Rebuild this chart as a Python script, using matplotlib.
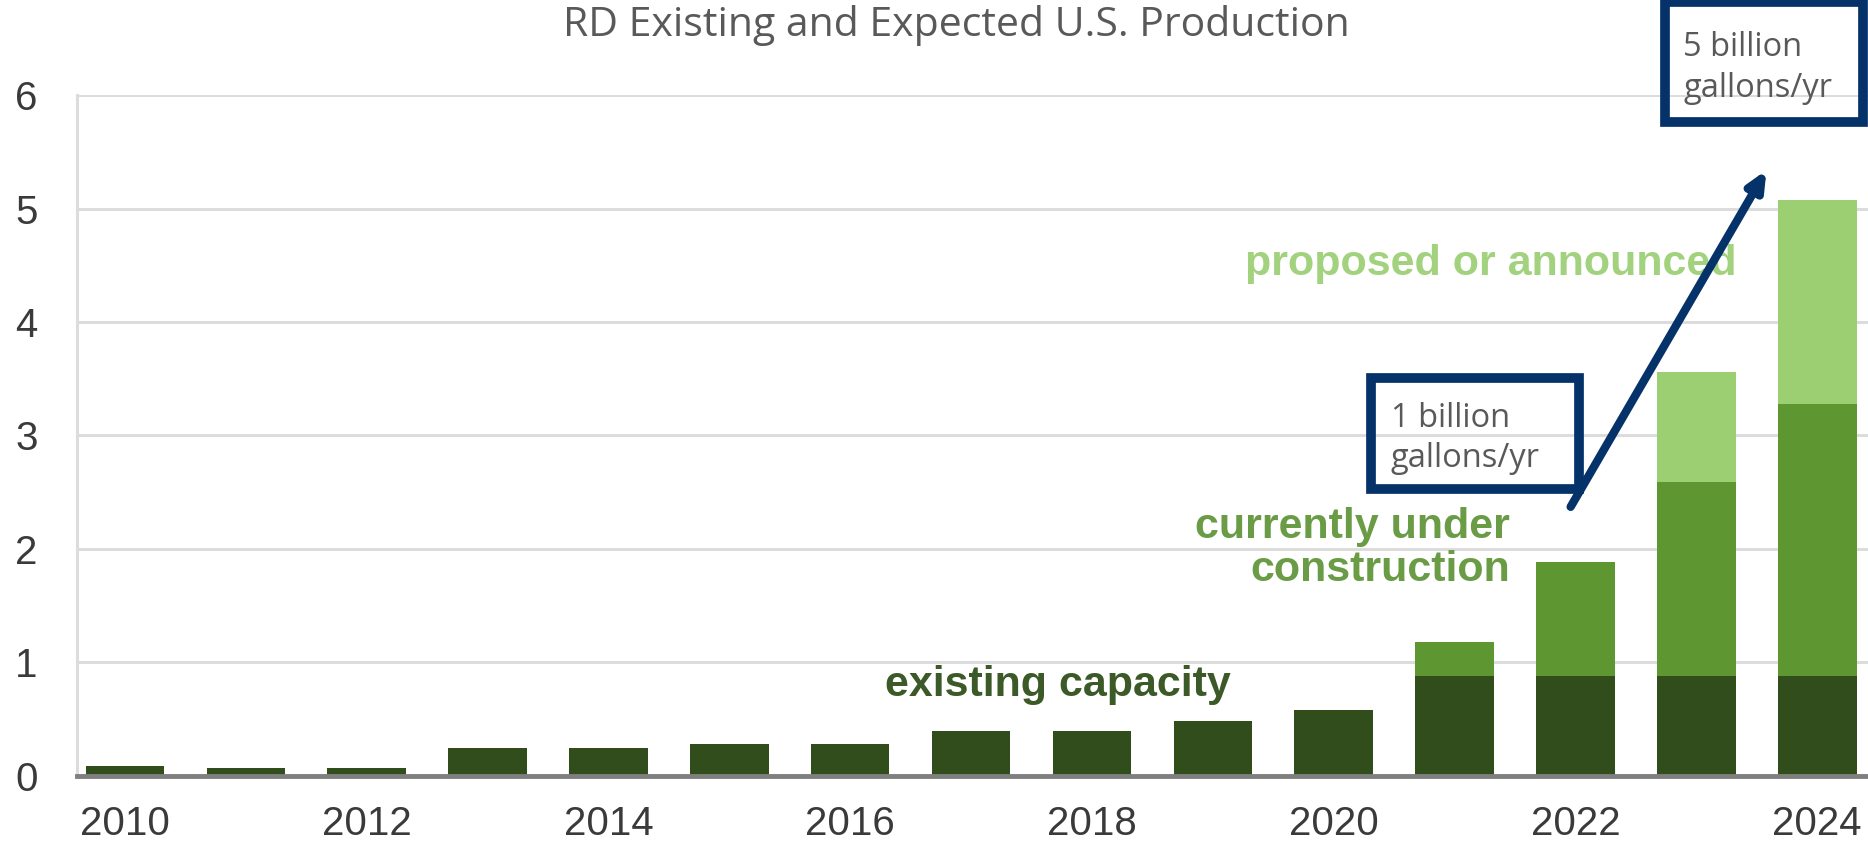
import numpy as np
import matplotlib
matplotlib.use("Agg")
import matplotlib.pyplot as plt
from matplotlib.patches import Rectangle

years = [2010, 2011, 2012, 2013, 2014, 2015, 2016, 2017, 2018, 2019, 2020, 2021, 2022, 2023, 2024]
existing = [0.08, 0.07, 0.07, 0.24, 0.24, 0.28, 0.28, 0.39, 0.39, 0.48, 0.58, 0.88, 0.88, 0.88, 0.88]
under_construction = [0, 0, 0, 0, 0, 0, 0, 0, 0, 0, 0, 0.30, 1.00, 1.71, 2.40]
proposed = [0, 0, 0, 0, 0, 0, 0, 0, 0, 0, 0, 0, 0, 0.97, 1.80]
year_ticks = [2010, 2012, 2014, 2016, 2018, 2020, 2022, 2024]
y_ticks = [0, 1, 2, 3, 4, 5, 6]

c_exist = "#314d1c"
c_under = "#5e9732"
c_prop = "#9bcf72"
navy = "#06326a"

fig = plt.figure(figsize=(18.68, 8.43), dpi=100)
ax = fig.add_axes([0.041, 0.080, 0.959, 0.807])

x = np.array(years)
under_bottom = np.array(existing)
prop_bottom = under_bottom + np.array(under_construction)
ax.bar(x, existing, width=0.65, color=c_exist, zorder=3)
ax.bar(x, under_construction, width=0.65, bottom=under_bottom, color=c_under, zorder=3)
ax.bar(x, proposed, width=0.65, bottom=prop_bottom, color=c_prop, zorder=3)

ax.set_xlim(2009.6, 2024.42)
ax.set_ylim(0, 6)
ax.set_yticks(y_ticks)
ax.set_xticks(year_ticks)
ax.yaxis.grid(True, color="#dcdcdc", linewidth=2.2, zorder=0)
ax.set_axisbelow(True)
for s in ["top", "right"]:
    ax.spines[s].set_visible(False)
ax.spines["left"].set_color("#dcdcdc")
ax.spines["left"].set_linewidth(2.2)
ax.spines["bottom"].set_color("#7f7f7f")
ax.spines["bottom"].set_linewidth(3.5)
ax.spines["bottom"].set_zorder(4)
ax.tick_params(length=0, labelsize=29, labelcolor="#3a3a3a")
ax.tick_params(axis="x", pad=21)
ax.tick_params(axis="y", pad=28)
for lab in ax.get_xticklabels() + ax.get_yticklabels():
    lab.set_family("Liberation Sans")

fig.text(0.512, 0.970, "RD Existing and Expected U.S. Production", ha="center", va="center",
         fontsize=29.5, color="#595959", family="Open Sans")

# category labels
ax.text(2017.72, 0.80, "existing capacity", ha="center", va="center", fontsize=31,
        fontweight="bold", color="#3b5a27", family="Liberation Sans", zorder=5)
ax.text(2021.46, 2.00, "currently under\nconstruction", ha="right", va="center", fontsize=31,
        fontweight="bold", color="#6a9b45", family="Liberation Sans", linespacing=1.1, zorder=5)
ax.text(2021.3, 4.51, "proposed or announced", ha="center", va="center", fontsize=31,
        fontweight="bold", color="#a2d27e", family="Liberation Sans", zorder=5)

# callout boxes
ax.add_patch(Rectangle((2020.31, 2.53), 1.72, 0.98, fill=False, edgecolor=navy,
                       linewidth=7, clip_on=False, zorder=6))
ax.text(2020.47, 2.975, "1 billion\ngallons/yr", ha="left", va="center", fontsize=23.5,
        color="#595959", family="Open Sans", linespacing=1.28, zorder=6)
ax.add_patch(Rectangle((2022.74, 5.76), 1.64, 1.06, fill=False, edgecolor=navy,
                       linewidth=7, clip_on=False, zorder=6))
ax.text(2022.89, 6.24, "5 billion\ngallons/yr", ha="left", va="center", fontsize=23.5,
        color="#595959", family="Open Sans", linespacing=1.32, clip_on=False, zorder=6)

ax.annotate("", xy=(2023.58, 5.34), xytext=(2021.96, 2.37),
            arrowprops=dict(arrowstyle="-|>,head_length=1.1,head_width=0.5", color=navy,
                            linewidth=6, shrinkA=0, shrinkB=0), zorder=7)

fig.savefig("out.png", dpi=100)
